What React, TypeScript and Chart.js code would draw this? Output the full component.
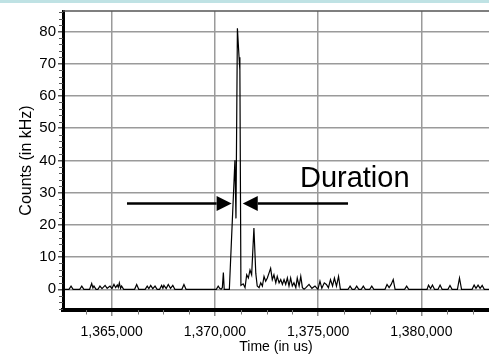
import React, { useEffect, useRef } from 'react';
import { Chart, registerables } from 'chart.js';

Chart.register(...registerables);

// Time axis values (us) and counts (kHz)
const times: number[] = [
  1362640, 1362930, 1363030, 1363130, 1363450, 1363550, 1363650, 1363930, 1364030, 1364090,
  1364140, 1364240, 1364330, 1364430, 1364530, 1364680, 1364780, 1364920, 1365010, 1365110,
  1365190, 1365270, 1365320, 1365370, 1365430, 1365480, 1365580, 1366110, 1366210, 1366310,
  1366620, 1366720, 1366800, 1366890, 1366990, 1367100, 1367200, 1367320, 1367420, 1367480,
  1367530, 1367640, 1367740, 1367850, 1367960, 1368060, 1368400, 1368500, 1368600, 1370070,
  1370160, 1370230, 1370300, 1370360, 1370410, 1370450, 1370700, 1370970, 1371020, 1371090,
  1371170, 1371210, 1371260, 1371370, 1371460, 1371540, 1371620, 1371700, 1371780, 1371890,
  1371980, 1372050, 1372140, 1372220, 1372300, 1372380, 1372460, 1372540, 1372620, 1372700,
  1372780, 1372860, 1372950, 1373020, 1373110, 1373190, 1373270, 1373350, 1373430, 1373510,
  1373590, 1373670, 1373750, 1373830, 1373920, 1373990, 1374080, 1374160, 1374240, 1374320,
  1374410, 1374560, 1374700, 1374850, 1374990, 1375090, 1375180, 1375300, 1375400, 1375500,
  1375600, 1375700, 1375790, 1375890, 1375990, 1376080, 1376450, 1376550, 1376650, 1376770,
  1376870, 1376970, 1377090, 1377190, 1377290, 1377500, 1377600, 1377700, 1378240, 1378340,
  1378440, 1378540, 1378640, 1378730, 1379190, 1379290, 1379390, 1380280, 1380350, 1380450,
  1380540, 1380640, 1380810, 1380910, 1381010, 1381290, 1381390, 1381490, 1381750, 1381850,
  1381950, 1382460, 1382560, 1382650, 1382750, 1382850, 1382950, 1383050, 1383280,
];

const counts: number[] = [
  0, 0, 1, 0, 0, 1, 0, 0, 1.8, 0.4,
  1, 0, 0, 1, 0.2, 1.2, 0.3, 1, 0.2, 1.5,
  0.5, 1.3, 0.6, 2, 0.3, 1, 0, 0, 1.5, 0,
  0, 1, 0.2, 1.2, 0.2, 1, 0, 0, 1.2, 0.3,
  1.2, 0.2, 1.5, 0.3, 1.2, 0, 0, 1.5, 0, 0,
  1, 0.3, 0, 0.5, 5.2, 0, 0, 40, 22, 81,
  72, 68, 1.2, 1.7, 0.5, 4.5, 3.5, 6, 4.5, 19,
  5, 1, 0.5, 2, 1, 4, 2.5, 3.5, 5, 6.5,
  3, 4.5, 2, 4, 2, 3, 1.5, 3, 1.5, 3.5,
  1, 3.5, 1, 2, 0.5, 3.5, 1, 4, 0.5, 0,
  0.5, 1.5, 0.3, 1, 0, 2.5, 0.3, 2, 1.5, 0.5,
  3, 1, 3.5, 1, 4, 0, 0, 1, 0, 0,
  1, 0, 0, 1, 0, 0, 1, 0, 0, 1.5,
  0.5, 1.5, 3, 0, 0, 1, 0, 0, 1.3, 0.2,
  1.3, 0, 0, 1.3, 0, 0, 1.2, 0, 0, 3.5,
  0, 0, 1.3, 0.3, 1.3, 0.3, 1.2, 0, 0,
];

const xTickValues: number[] = [1365000, 1370000, 1375000, 1380000];
const yTickValues: number[] = [0, 10, 20, 30, 40, 50, 60, 70, 80];

const X_MIN = 1362640;
const X_MAX = 1383280;
const Y_MIN = -6.43;
const Y_MAX = 86.35;
const X_MINOR_STEP = 1250;
const X_MAJOR_STEP = 5000;
const Y_MINOR_STEP = 2;
const Y_MAJOR_STEP = 10;

// "Duration" annotation (in data units)
const annotationLabel = 'Duration';
const arrowLevel = 26.6;
const leftArrowStart = 1365740;
const leftArrowTip = 1370810;
const rightArrowTip = 1371350;
const rightArrowEnd = 1376450;
const labelX = 1374120;
const labelY = 31.7;

const FONT = '"Liberation Sans", Arial, Helvetica, sans-serif';

const decorPlugin = {
  id: 'decor',
  afterDraw(chart: any) {
    const { ctx, chartArea, scales } = chart;
    const xs = scales.x;
    const ys = scales.y;
    ctx.save();
    // top frame line
    ctx.strokeStyle = '#555';
    ctx.lineWidth = 1.5;
    ctx.beginPath();
    ctx.moveTo(chartArea.left, chartArea.top);
    ctx.lineTo(chartArea.right, chartArea.top);
    ctx.stroke();

    // minor ticks on x axis
    ctx.strokeStyle = '#777';
    ctx.lineWidth = 1;
    for (let v = Math.ceil(X_MIN / X_MINOR_STEP) * X_MINOR_STEP; v <= X_MAX; v += X_MINOR_STEP) {
      if (v % X_MAJOR_STEP === 0) continue;
      const px = Math.round(xs.getPixelForValue(v)) + 0.5;
      ctx.beginPath();
      ctx.moveTo(px, chartArea.bottom);
      ctx.lineTo(px, chartArea.bottom + 4.5);
      ctx.stroke();
    }
    // minor ticks on y axis
    ctx.strokeStyle = '#555';
    for (let v = Math.ceil(Y_MIN / Y_MINOR_STEP) * Y_MINOR_STEP; v <= Y_MAX; v += Y_MINOR_STEP) {
      if (v % Y_MAJOR_STEP === 0) continue;
      const py = Math.round(ys.getPixelForValue(v)) + 0.5;
      ctx.beginPath();
      ctx.moveTo(chartArea.left, py);
      ctx.lineTo(chartArea.left - 4, py);
      ctx.stroke();
    }

    // arrows
    const ay = ys.getPixelForValue(arrowLevel);
    const head = 15;
    const half = 7.5;
    ctx.strokeStyle = '#000';
    ctx.fillStyle = '#000';
    ctx.lineWidth = 2.5;
    const l0 = xs.getPixelForValue(leftArrowStart);
    const l1 = xs.getPixelForValue(leftArrowTip);
    ctx.beginPath();
    ctx.moveTo(l0, ay);
    ctx.lineTo(l1 - head, ay);
    ctx.stroke();
    ctx.beginPath();
    ctx.moveTo(l1, ay);
    ctx.lineTo(l1 - head, ay - half);
    ctx.lineTo(l1 - head, ay + half);
    ctx.closePath();
    ctx.fill();

    const r0 = xs.getPixelForValue(rightArrowTip);
    const r1 = xs.getPixelForValue(rightArrowEnd);
    ctx.beginPath();
    ctx.moveTo(r0 + head, ay);
    ctx.lineTo(r1, ay);
    ctx.stroke();
    ctx.beginPath();
    ctx.moveTo(r0, ay);
    ctx.lineTo(r0 + head, ay - half);
    ctx.lineTo(r0 + head, ay + half);
    ctx.closePath();
    ctx.fill();

    // label
    ctx.font = `29px ${FONT}`;
    ctx.textAlign = 'left';
    ctx.textBaseline = 'alphabetic';
    ctx.fillText(annotationLabel, xs.getPixelForValue(labelX), ys.getPixelForValue(labelY));
    ctx.restore();
  },
};

export default function App() {
  const ref = useRef<HTMLCanvasElement | null>(null);

  useEffect(() => {
    if (!ref.current) return;
    const chart = new Chart(ref.current, {
      type: 'line',
      data: {
        datasets: [
          {
            data: times.map((t, i) => ({ x: t, y: counts[i] })),
            borderColor: '#000',
            borderWidth: 1.2,
            pointRadius: 0,
            tension: 0,
            fill: false,
          },
        ],
      },
      options: {
        animation: false,
        responsive: false,
        maintainAspectRatio: false,
        devicePixelRatio: 1,
        layout: { padding: { top: 7, right: 0, left: 0, bottom: 0 } },
        plugins: { legend: { display: false }, tooltip: { enabled: false } },
        scales: {
          x: {
            type: 'linear',
            min: X_MIN,
            max: X_MAX,
            afterBuildTicks: (s: any) => {
              s.ticks = xTickValues.map((v) => ({ value: v }));
            },
            afterFit: (s: any) => {
              s.height = 51;
            },
            ticks: {
              autoSkip: false,
              maxRotation: 0,
              color: '#000',
              padding: 8,
              font: { family: FONT, size: 14 },
              callback: (v: any) => Number(v).toLocaleString('en-US'),
            },
            grid: { color: '#9a9a9a', lineWidth: 1.5, tickLength: 6, tickColor: '#888' },
            border: { color: '#000', width: 4 },
            title: {
              display: true,
              text: 'Time (in us)',
              color: '#000',
              font: { family: FONT, size: 14 },
              padding: { top: 0, bottom: 5 },
            },
          },
          y: {
            type: 'linear',
            min: Y_MIN,
            max: Y_MAX,
            afterBuildTicks: (s: any) => {
              s.ticks = yTickValues.map((v) => ({ value: v }));
            },
            afterFit: (s: any) => {
              s.width = 63;
            },
            ticks: {
              color: '#000',
              padding: 2,
              font: { family: FONT, size: 15 },
            },
            grid: { color: '#9a9a9a', lineWidth: 1.5, tickLength: 5, tickColor: '#555' },
            border: { color: '#000', width: 3 },
            title: {
              display: true,
              text: 'Counts (in kHz)',
              color: '#000',
              font: { family: FONT, size: 16 },
              padding: { top: 17, bottom: 0 },
            },
          },
        },
      },
      plugins: [decorPlugin],
    });
    return () => chart.destroy();
  }, []);

  return (
    <div style={{ position: 'fixed', left: 0, top: 0, width: 489, height: 361, background: '#fff' }}>
      <div style={{ position: 'absolute', left: 0, top: 0, width: 489, height: 3, background: '#bfe2e4' }} />
      <canvas ref={ref} width={489} height={361} style={{ display: 'block', width: 489, height: 361 }} />
    </div>
  );
}
